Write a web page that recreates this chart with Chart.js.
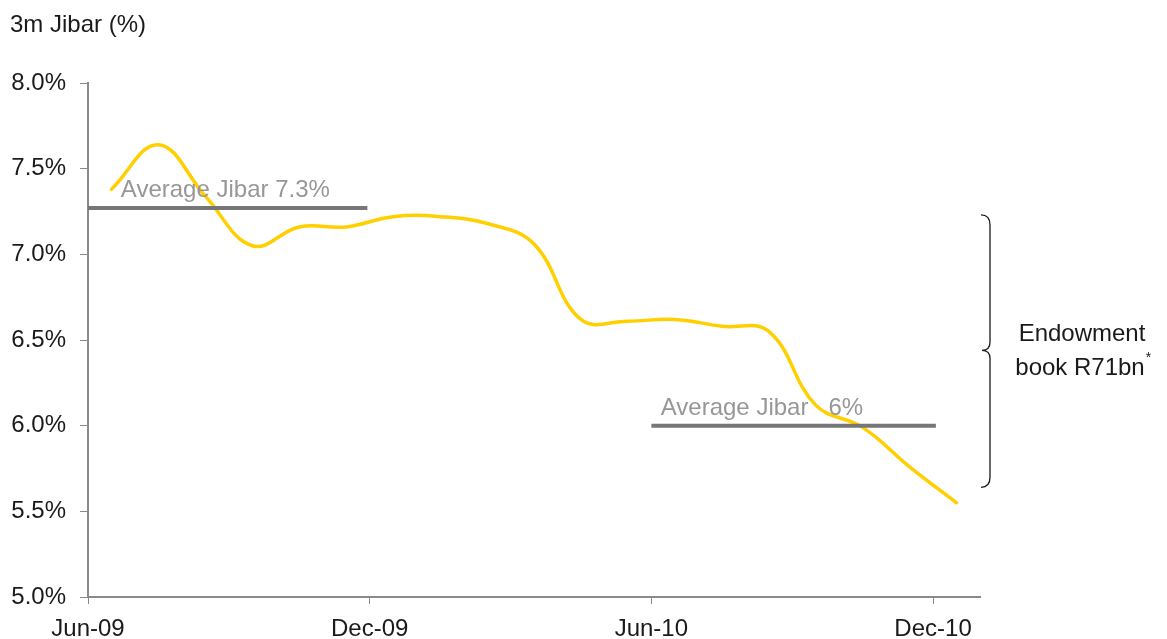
<!DOCTYPE html>
<html>
<head>
<meta charset="utf-8">
<script src="https://cdn.jsdelivr.net/npm/chart.js@4.4.1/dist/chart.umd.min.js"></script>
<style>
  html, body { margin: 0; padding: 0; background: #fff; }
  #wrap { width: 1167px; height: 639px; position: relative; }
</style>
</head>
<body>
<div id="wrap"><canvas id="chart"></canvas></div>
<script>
// months counted from Jun-09 (0 = Jun-09, 6 = Dec-09 ...)
var months = [0.5, 1.5, 2.5, 3.5, 4.5, 5.5, 6.5, 7.5, 8.5, 9.5, 10.5, 11.5, 12.5, 13.5, 14.5, 15.5, 16.5, 17.5, 18.5];
var jibar  = [7.38, 7.64, 7.34, 7.05, 7.16, 7.16, 7.22, 7.22, 7.18, 7.06, 6.62, 6.61, 6.62, 6.58, 6.55, 6.12, 5.99, 5.76, 5.55];

var tickMonths = [0, 6, 12, 18];
var tickLabels = ['Jun-09', 'Dec-09', 'Jun-10', 'Dec-10'];

// average jibar lines: [start month, end month, level]
var avg1 = [0, 5.95, 7.27];
var avg2 = [12, 18.06, 6.0];
var avgLabels = ['Average Jibar 7.3%', 'Average Jibar   6%'];
var avgLabelX = [0.7, 12.2];

// endowment brace span (y values)
var braceTop = 7.23, braceMid = 6.44, braceBottom = 5.64;

var points = [];
for (var i = 0; i < months.length; i++) {
  points.push({x: months[i], y: jibar[i]});
}

var font = 'Arial, "Liberation Sans", sans-serif';

var extras = {
  id: 'extras',
  afterDatasetsDraw: function(chart) {
    var ctx = chart.ctx;
    var xs = chart.scales.x, ys = chart.scales.y;
    ctx.save();
    // axis title
    ctx.fillStyle = '#1a1a1a';
    ctx.font = '24px ' + font;
    ctx.textBaseline = 'alphabetic';
    ctx.textAlign = 'left';
    ctx.fillText('3m Jibar (%)', 10, 32);

    // average labels
    ctx.fillStyle = '#979797';
    ctx.fillText(avgLabels[0], xs.getPixelForValue(avgLabelX[0]), ys.getPixelForValue(avg1[2]) - 11);
    ctx.fillText(avgLabels[1], xs.getPixelForValue(avgLabelX[1]), ys.getPixelForValue(avg2[2]) - 11);

    // brace
    var bx = chart.chartArea.right + 10;
    var t = ys.getPixelForValue(braceTop);
    var m = ys.getPixelForValue(braceMid);
    var b = ys.getPixelForValue(braceBottom);
    ctx.strokeStyle = '#1a1a1a';
    ctx.lineWidth = 1.3;
    ctx.beginPath();
    ctx.moveTo(bx - 9, t);
    ctx.quadraticCurveTo(bx, t, bx, t + 10);
    ctx.lineTo(bx, m - 8);
    ctx.quadraticCurveTo(bx, m, bx - 8, m);
    ctx.quadraticCurveTo(bx, m, bx, m + 8);
    ctx.lineTo(bx, b - 10);
    ctx.quadraticCurveTo(bx, b, bx - 9, b);
    ctx.stroke();

    // brace text
    ctx.fillStyle = '#1a1a1a';
    ctx.textAlign = 'center';
    ctx.textBaseline = 'middle';
    var cx = bx + 94;
    ctx.fillText('Endowment', cx - 2, m - 16);
    ctx.fillText('book R71bn', cx - 4, m + 18);
    var w = ctx.measureText('book R71bn').width;
    ctx.font = '14px ' + font;
    ctx.textAlign = 'left';
    ctx.fillText('*', cx - 4 + w / 2 + 1, m + 8);
    ctx.restore();
  }
};

var ctx = document.getElementById('chart').getContext('2d');
var chart = new Chart(ctx, {
  type: 'line',
  data: {
    datasets: [
      {
        label: 'avg1',
        data: [{x: avg1[0], y: avg1[2]}, {x: avg1[1], y: avg1[2]}],
        borderColor: '#767676',
        borderWidth: 4,
        pointRadius: 0,
        tension: 0,
        order: 0
      },
      {
        label: 'avg2',
        data: [{x: avg2[0], y: avg2[2]}, {x: avg2[1], y: avg2[2]}],
        borderColor: '#767676',
        borderWidth: 4,
        pointRadius: 0,
        tension: 0,
        order: 0
      },
      {
        label: '3m Jibar',
        data: points,
        borderColor: '#ffcf00',
        borderWidth: 3.5,
        pointRadius: 0,
        tension: 0.4,
        borderCapStyle: 'round',
        order: 1
      }
    ]
  },
  options: {
    responsive: true,
    maintainAspectRatio: false,
    animation: false,
    layout: { padding: { top: 83, right: 187, bottom: 0, left: 0 } },
    plugins: {
      legend: { display: false },
      tooltip: { enabled: false }
    },
    scales: {
      x: {
        type: 'linear',
        min: 0,
        max: 19,
        afterBuildTicks: function(scale) {
          scale.ticks = tickMonths.map(function(v) { return {value: v}; });
        },
        afterFit: function(scale) { scale.height = 42; },
        grid: { drawOnChartArea: false, drawTicks: true, tickLength: 7, color: '#8a8a8a', lineWidth: 1 },
        border: { color: '#8a8a8a', width: 2 },
        ticks: {
          autoSkip: false,
          maxRotation: 0,
          padding: 11,
          color: '#1a1a1a',
          font: { size: 24, family: font },
          callback: function(v) {
            var k = tickMonths.indexOf(v);
            return k >= 0 ? tickLabels[k] : '';
          }
        }
      },
      y: {
        min: 5,
        max: 8,
        afterFit: function(scale) { scale.width = 88; },
        grid: { drawOnChartArea: false, drawTicks: true, tickLength: 8, color: '#8a8a8a', lineWidth: 1 },
        border: { color: '#8a8a8a', width: 2 },
        ticks: {
          stepSize: 0.5,
          padding: 14,
          color: '#1a1a1a',
          font: { size: 24, family: font },
          callback: function(v) { return v.toFixed(1) + '%'; }
        }
      }
    }
  },
  plugins: [extras]
});
</script>
</body>
</html>
